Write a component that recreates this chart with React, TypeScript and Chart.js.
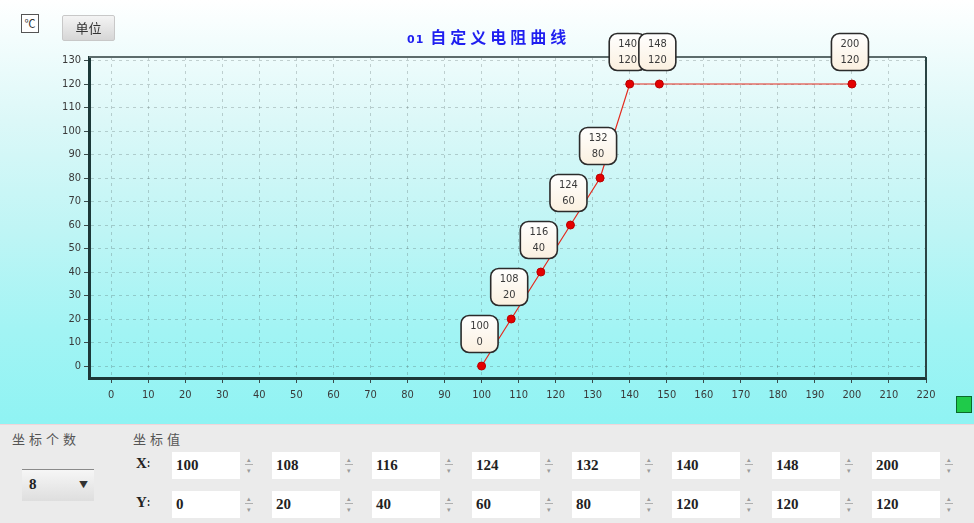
import React, { useEffect, useRef } from 'react';
import { Chart, registerables } from 'chart.js';

Chart.register(...registerables);

// 曲线坐标点 (温度-电阻)
const xValues = [100, 108, 116, 124, 132, 140, 148, 200];
const yValues = [0, 20, 40, 60, 80, 120, 120, 120];
const xTicks = [0, 10, 20, 30, 40, 50, 60, 70, 80, 90, 100, 110, 120, 130, 140, 150, 160, 170, 180, 190, 200, 210, 220];
const yTicks = [0, 10, 20, 30, 40, 50, 60, 70, 80, 90, 100, 110, 120, 130];
const chartTitle = '01 自定义电阻曲线';
const pointCount = '8';

const TICK_FONT = { family: '"DejaVu Sans Condensed", "DejaVu Sans", sans-serif', size: 11 };

// 外框: 上边和右边
const framePlugin = {
  id: 'frame',
  beforeDatasetsDraw(chart: any) {
    const { ctx, chartArea } = chart;
    ctx.save();
    ctx.lineWidth = 2;
    ctx.strokeStyle = '#5c6c6c';
    ctx.beginPath();
    ctx.moveTo(chartArea.left, chartArea.top);
    ctx.lineTo(chartArea.right, chartArea.top);
    ctx.stroke();
    ctx.strokeStyle = '#2a4444';
    ctx.beginPath();
    ctx.moveTo(chartArea.right, chartArea.top);
    ctx.lineTo(chartArea.right, chartArea.bottom);
    ctx.stroke();
    ctx.restore();
  }
};

// 每个点上方的圆角标签
const pointLabelPlugin = {
  id: 'pointLabels',
  afterDatasetsDraw(chart: any) {
    const ctx = chart.ctx;
    const meta = chart.getDatasetMeta(0);
    ctx.save();
    meta.data.forEach((pt: any, i: number) => {
      const w = 37;
      const h = 37;
      const cx = pt.x - 2;
      const bx = cx - w / 2;
      const by = pt.y - 32 - h / 2;
      ctx.beginPath();
      ctx.roundRect(bx, by, w, h, 8);
      const g = ctx.createLinearGradient(0, by, 0, by + h);
      g.addColorStop(0, '#ffffff');
      g.addColorStop(1, '#fbf0df');
      ctx.fillStyle = g;
      ctx.fill();
      ctx.lineWidth = 1.6;
      ctx.strokeStyle = '#2b2b2b';
      ctx.stroke();
      ctx.fillStyle = '#3a3a3a';
      ctx.font = '11px "DejaVu Sans Condensed", "DejaVu Sans", sans-serif';
      ctx.textAlign = 'center';
      ctx.textBaseline = 'middle';
      ctx.fillText(String(xValues[i]), cx, by + 11);
      ctx.fillText(String(yValues[i]), cx, by + 27);
    });
    ctx.restore();
  }
};

const gridOpts = {
  color: 'rgba(60, 75, 75, 0.25)',
  tickColor: '#3c4c4c',
  tickLength: 5,
  lineWidth: 1
};

const CurveChart: React.FC = () => {
  const canvasRef = useRef<HTMLCanvasElement>(null);

  useEffect(() => {
    if (!canvasRef.current) return;
    const chart = new Chart(canvasRef.current, {
      type: 'scatter',
      data: {
        datasets: [{
          data: xValues.map((x, i) => ({ x, y: yValues[i] })),
          showLine: true,
          borderColor: '#e42a1e',
          borderWidth: 1.2,
          pointRadius: 4,
          pointBackgroundColor: '#e40000',
          pointBorderColor: '#b80000',
          pointBorderWidth: 1
        }]
      },
      options: {
        animation: false,
        responsive: true,
        maintainAspectRatio: false,
        layout: { padding: { top: 57, right: 48, left: 0, bottom: 0 } },
        plugins: {
          legend: { display: false },
          tooltip: { enabled: false },
          title: { display: false }
        },
        scales: {
          x: {
            type: 'linear',
            min: -6,
            max: 220,
            afterBuildTicks: (scale: any) => { scale.ticks = xTicks.map(v => ({ value: v })); },
            afterFit: (scale: any) => { scale.height = 42; },
            border: { display: true, color: '#1c3838', width: 3, dash: [3, 4] },
            grid: gridOpts,
            ticks: { color: '#3a3a3a', font: TICK_FONT, padding: 6, maxRotation: 0, autoSkip: false }
          },
          y: {
            type: 'linear',
            min: -5.1,
            max: 131.5,
            afterBuildTicks: (scale: any) => { scale.ticks = yTicks.map(v => ({ value: v })); },
            afterFit: (scale: any) => { scale.width = 89; },
            border: { display: true, color: '#1c3838', width: 3, dash: [3, 4] },
            grid: gridOpts,
            ticks: { color: '#3a3a3a', font: TICK_FONT, padding: 3, autoSkip: false }
          }
        }
      },
      plugins: [framePlugin, pointLabelPlugin]
    } as any);

    return () => {
      chart.destroy();
    };
  }, []);

  return (
    <div style={{ position: 'absolute', left: 0, top: 0, width: 974, height: 420 }}>
      <canvas ref={canvasRef}></canvas>
    </div>
  );
};

const Spinner: React.FC<{ left: number; top: number }> = ({ left, top }) => (
  <div style={{ position: 'absolute', left, top, width: 10, height: 22, color: '#9a9a9a', fontSize: 7, lineHeight: '8px', textAlign: 'center' }}>
    <div>▴</div>
    <div style={{ borderTop: '1px solid #b0b0b0', width: 8, margin: '1px auto' }}></div>
    <div>▾</div>
  </div>
);

const FieldRow: React.FC<{ label: string; values: number[]; top: number }> = ({ label, values, top }) => (
  <>
    <div style={{ position: 'absolute', left: 136, top: top + 3, fontFamily: '"Liberation Serif", serif', fontWeight: 'bold', fontSize: 15, color: '#222' }}>
      {label}<span style={{ fontSize: 12, fontWeight: 'normal' }}>∶</span>
    </div>
    {values.map((v, i) => (
      <React.Fragment key={i}>
        <div style={{
          position: 'absolute', left: 172 + i * 100, top, width: 68, height: 27,
          background: '#ffffff', boxSizing: 'border-box', paddingLeft: 4, lineHeight: '27px',
          fontFamily: '"Liberation Serif", serif', fontWeight: 'bold', fontSize: 15, color: '#222'
        }}>{v}</div>
        <Spinner left={244 + i * 100} top={top + 3} />
      </React.Fragment>
    ))}
  </>
);

const App: React.FC = () => {
  return (
    <div style={{ position: 'absolute', left: 0, top: 0, width: 974, height: 523, overflow: 'hidden', fontFamily: '"Noto Sans CJK SC", sans-serif' }}>
      <style>{'body{margin:0;}'}</style>
      <div style={{
        position: 'absolute', left: 0, top: 0, width: 974, height: 424,
        background: 'linear-gradient(180deg, #ffffff 0px, #f3fdfd 40px, #dcf8f8 120px, #bff5f5 230px, #a2f4f4 330px, #8ff3f3 424px)'
      }}></div>
      <CurveChart />

      {/* 单位 */}
      <div style={{ position: 'absolute', left: 21, top: 14, width: 18, height: 19, border: '1px solid #555', boxSizing: 'border-box', background: '#fff', fontSize: 11, lineHeight: '17px', textAlign: 'center', color: '#333' }}>℃</div>
      <div style={{
        position: 'absolute', left: 62, top: 15, width: 53, height: 26, boxSizing: 'border-box',
        border: '1px solid #c8c8c8', borderRadius: 2, background: 'linear-gradient(180deg, #f4f4f4, #d6d6d6)',
        fontSize: 13, lineHeight: '24px', textAlign: 'center', color: '#333'
      }}>单位</div>

      {/* 标题 */}
      <div style={{ position: 'absolute', left: 407, top: 25, fontSize: 16, fontWeight: 'bold', color: '#1f1ff0', letterSpacing: 4, lineHeight: '22px', whiteSpace: 'nowrap' }}>
        <span style={{ fontSize: 11, letterSpacing: 1, fontFamily: '"DejaVu Sans", sans-serif' }}>{chartTitle.split(' ')[0]}</span>
        <span style={{ marginLeft: 6 }}>{chartTitle.split(' ')[1]}</span>
      </div>

      {/* 绿色按钮 */}
      <div style={{ position: 'absolute', left: 956, top: 396, width: 16, height: 17, boxSizing: 'border-box', border: '1px solid #0a6a2a', background: '#1fca4a' }}></div>

      {/* 下方面板 */}
      <div style={{ position: 'absolute', left: 0, top: 424, width: 974, height: 1, background: '#f0d6da' }}></div>
      <div style={{ position: 'absolute', left: 0, top: 425, width: 974, height: 98, background: '#ebebeb' }}></div>
      <div style={{ position: 'absolute', left: 12, top: 429, fontSize: 13, letterSpacing: 4, color: '#555' }}>坐标个数</div>
      <div style={{ position: 'absolute', left: 133, top: 429, fontSize: 13, letterSpacing: 4, color: '#555' }}>坐标值</div>

      <div style={{
        position: 'absolute', left: 22, top: 469, width: 72, height: 32, boxSizing: 'border-box',
        borderTop: '1px solid #8a8a8a', background: 'linear-gradient(180deg, #f6f6f6, #dedede)'
      }}>
        <span style={{ position: 'absolute', left: 7, top: 6, fontFamily: '"Liberation Serif", serif', fontWeight: 'bold', fontSize: 15, color: '#222' }}>{pointCount}</span>
        <span style={{ position: 'absolute', left: 57, top: 8, fontSize: 9, color: '#333' }}>▼</span>
      </div>

      <FieldRow label="X" values={xValues} top={452} />
      <FieldRow label="Y" values={yValues} top={491} />
    </div>
  );
};

export default App;
